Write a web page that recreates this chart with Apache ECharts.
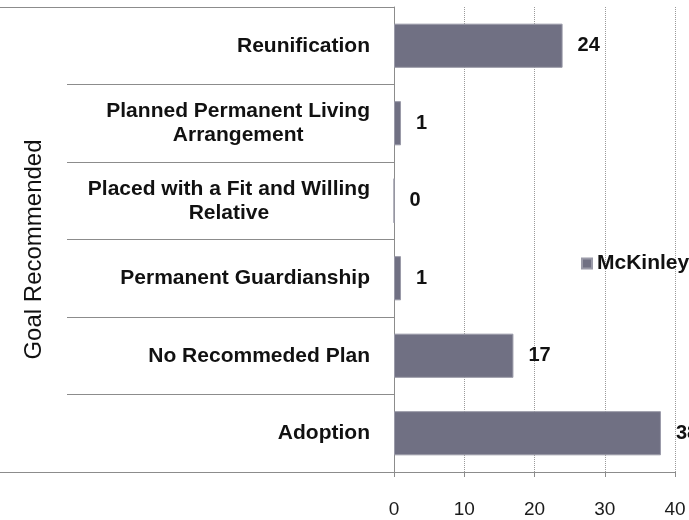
<!DOCTYPE html>
<html>
<head>
<meta charset="utf-8">
<script src="https://cdn.jsdelivr.net/npm/echarts@6/dist/echarts.min.js"></script>
<style>html,body{margin:0;padding:0;background:#fff;}#chart{width:689px;height:520px;}</style>
</head>
<body>
<div id="chart"></div>
<script>
const categories = [
  'Reunification',
  'Planned Permanent Living\nArrangement',
  'Placed with a Fit and Willing\nRelative',
  'Permanent Guardianship',
  'No Recommeded Plan',
  'Adoption'
];
const seriesName = 'McKinley';
const values = [24, 1, 0, 1, 17, 38];
const xTicks = { min: 0, max: 40, interval: 10 };
const axisTitle = 'Goal Recommended';

const FONT = '"Liberation Sans", Arial, sans-serif';
const chart = echarts.init(document.getElementById('chart'), null, { renderer: 'canvas' });
chart.setOption({
  animation: false,
  backgroundColor: '#ffffff',
  grid: { left: 394, right: 14, top: 7, bottom: 48, containLabel: false },
  legend: {
    data: [seriesName],
    left: 576, top: 248,
    itemWidth: 10, itemHeight: 10, itemGap: 5,
    icon: 'rect',
    textStyle: { fontFamily: FONT, fontSize: 21, fontWeight: 'bold', color: '#111' }
  },
  xAxis: {
    type: 'value',
    min: xTicks.min, max: xTicks.max, interval: xTicks.interval,
    axisLine: { show: true, lineStyle: { color: '#8c8c8c', width: 1 } },
    axisTick: { show: true, length: 5, lineStyle: { color: '#8c8c8c' } },
    axisLabel: { margin: 28, fontFamily: FONT, fontSize: 19, color: '#1a1a1a' },
    splitLine: { show: true, lineStyle: { color: '#9a9a9a', type: 'dotted', width: 1 } }
  },
  yAxis: [
    {
      type: 'category',
      data: categories,
      inverse: true,
      name: axisTitle,
      nameLocation: 'middle',
      nameRotate: 90,
      nameGap: 348,
      nameTextStyle: { fontFamily: FONT, fontSize: 24, color: '#111', padding: [0, 20, 0, 0] },
      axisLine: { show: true, lineStyle: { color: '#8c8c8c', width: 1 } },
      axisTick: { show: true, length: 327, lineStyle: { color: '#8c8c8c', width: 1 } },
      axisLabel: {
        interval: 0, margin: 24, align: 'right',
        formatter: v => v.split('\n').map(s => '{c|' + s + '}').join('\n'),
        rich: { c: { align: 'center', fontFamily: FONT, fontSize: 21, fontWeight: 'bold', color: '#111', lineHeight: 24 } }
      }
    },
    {
      type: 'category',
      data: [''],
      position: 'left',
      axisLine: { show: false },
      axisTick: { show: true, length: 394, lineStyle: { color: '#8c8c8c', width: 1 } },
      axisLabel: { show: false },
      splitLine: { show: false }
    }
  ],
  series: [{
    name: seriesName,
    type: 'bar',
    yAxisIndex: 0,
    data: values,
    barWidth: '57%',
    itemStyle: { color: '#707083', borderColor: '#9a9aa8', borderWidth: 1 },
    label: {
      show: true, position: 'right', distance: 15,
      fontFamily: FONT, fontSize: 20, fontWeight: 'bold', color: '#111'
    }
  }]
});
</script>
</body>
</html>
